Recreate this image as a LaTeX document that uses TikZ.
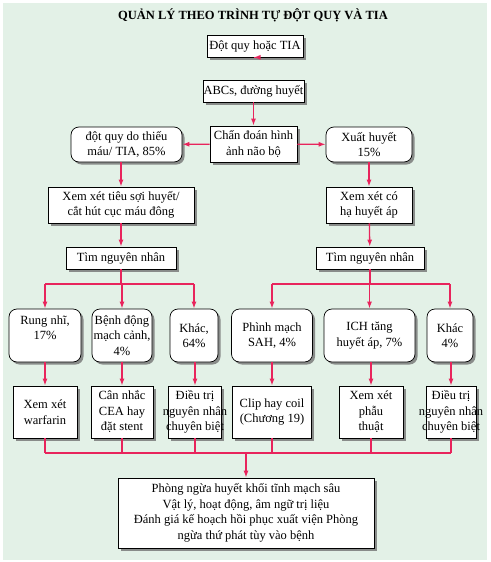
\documentclass[tikz,border=0pt]{standalone}
\usepackage{fontspec}
\setmainfont{Liberation Serif}
\usetikzlibrary{arrows.meta,shadows}
\definecolor{bggreen}{RGB}{227,241,231}
\definecolor{flowred}{RGB}{232,36,92}

\tikzset{
  sqbox/.style={draw=black, line width=0.7pt, fill=white, align=center,
    inner xsep=0pt, inner ysep=1pt, font=\fontsize{12.5}{15.5}\selectfont,
    drop shadow={shadow xshift=2.5pt, shadow yshift=-2.5pt, fill=black!55, opacity=0.8}},
  rndbox/.style={sqbox, rounded corners=8pt},
  flow/.style={flowred, line width=1.3pt},
  arr/.style={flow, -{Latex[length=7pt,width=5pt]}}
}

\begin{document}
\begin{tikzpicture}[x=1pt,y=-1pt]
\fill[white] (0,0) rectangle (490,562);
\fill[bggreen] (3,3) rectangle (487,560);
\useasboundingbox (0,0) rectangle (490,562);

\node[font=\bfseries\fontsize{12.5}{14}\selectfont] (title) at (253,15) {QUẢN LÝ THEO TRÌNH TỰ ĐỘT QUỴ VÀ TIA};

% top of the flow
\node[sqbox, minimum width=96pt, minimum height=22pt] (start) at (255,46) {Đột quy hoặc TIA};
\node[sqbox, minimum width=101pt, minimum height=22pt] (abc) at (253.5,91) {ABCs, đường huyết};
\node[sqbox, minimum width=87pt, minimum height=36pt] (img) at (253.5,144) {Chẩn đoán hình\\ảnh não bộ};
\node[rndbox, minimum width=111pt, minimum height=35pt] (isch) at (126.5,144.5) {đột quy do thiếu\\máu/ TIA, 85\%};
\node[rndbox, minimum width=86pt, minimum height=35pt] (hem) at (369,144.5) {Xuất huyết\\15\%};

% left branch
\node[sqbox, minimum width=146pt, minimum height=36pt] (tpa) at (121,205) {Xem xét tiêu sợi huyết/\\cắt hút cục máu đông};
\node[sqbox, minimum width=110pt, minimum height=22pt] (causeL) at (121,258) {Tìm nguyên nhân};
% right branch
\node[sqbox, minimum width=86pt, minimum height=36pt] (bp) at (369,205) {Xem xét có\\hạ huyết áp};
\node[sqbox, minimum width=108pt, minimum height=22pt] (causeR) at (370,258) {Tìm nguyên nhân};

% causes
\node[rndbox, minimum width=72pt, minimum height=53pt] (af) at (45,335.5) {Rung nhĩ,\\17\%\\\mbox{}};
\node[rndbox, minimum width=60pt, minimum height=53pt] (carot) at (122,335.5) {Bệnh động\\mạch cảnh,\\4\%};
\node[rndbox, minimum width=48pt, minimum height=53pt] (othL) at (194,335.5) {Khác,\\64\%};
\node[rndbox, minimum width=81pt, minimum height=53pt] (sah) at (272,335.5) {Phình mạch\\SAH, 4\%};
\node[rndbox, minimum width=91pt, minimum height=53pt] (ich) at (369.5,335.5) {ICH tăng\\huyết áp, 7\%};
\node[rndbox, minimum width=46pt, minimum height=53pt] (othR) at (450,335.5) {Khác\\4\%};

% treatments
\node[sqbox, minimum width=64pt, minimum height=52pt] (warf) at (45,412) {Xem xét\\warfarin};
\node[sqbox, minimum width=62pt, minimum height=52pt] (cea) at (122,412) {Cân nhắc\\CEA hay\\đặt stent};
\node[sqbox, inner xsep=-5.5pt, minimum height=52pt] (specL) at (195,412) {Điều trị\\nguyên nhân\\chuyên biệt};
\node[sqbox, minimum width=79pt, minimum height=52pt] (coil) at (272,412) {Clip hay coil\\(Chương 19)};
\node[sqbox, minimum width=64pt, minimum height=52pt] (surg) at (371,412) {Xem xét\\phẫu\\thuật};
\node[sqbox, inner xsep=-7pt, minimum height=52pt] (specR) at (451,412) {Điều trị\\nguyên nhân\\chuyên biệt};

% common care
\node[sqbox, minimum width=256pt, minimum height=70pt] (care) at (246,513) {Phòng ngừa huyết khối tĩnh mạch sâu\\Vật lý, hoạt động, âm ngữ trị liệu\\Đánh giá kế hoạch hồi phục xuất viện Phòng\\ngừa thứ phát tùy vào bệnh};

\coordinate (barL) at (121,284);
\coordinate (barR) at (370,284);
\coordinate (barB) at (246,453);

% connectors
\draw[arr] (start) -- (start.south -| abc.north) ;
\draw[arr] (abc) -- (img);
\draw[arr] (img) -- (isch);
\draw[arr] (img) -- (hem);
\draw[arr] (isch.south -| tpa.north) -- (tpa);
\draw[arr] (tpa) -- (causeL);
\draw[arr] (hem) -- (bp);
\draw[arr] (bp) -- (causeR);

\draw[flow] (causeL) -- (barL);
\draw[flow] (causeR) -- (barR);
\draw[flow] (barL -| af) -- (barL -| othL);
\draw[flow] (barR -| sah) -- (barR -| othR);
\foreach \c in {af,carot,othL,sah,ich,othR}
  \draw[arr] (barL -| \c) -- (\c);
\foreach \a/\b in {af/warf,carot/cea,othL/specL,sah/coil,ich/surg,othR/specR}
  \draw[arr] (\a.south -| \b) -- (\b);
\foreach \b in {warf,cea,specL,coil,surg,specR}
  \draw[flow] (\b) -- (barB -| \b);
\draw[flow] (barB -| warf) -- (barB -| specR);
\draw[arr] (barB) -- (care);
\end{tikzpicture}
\end{document}
